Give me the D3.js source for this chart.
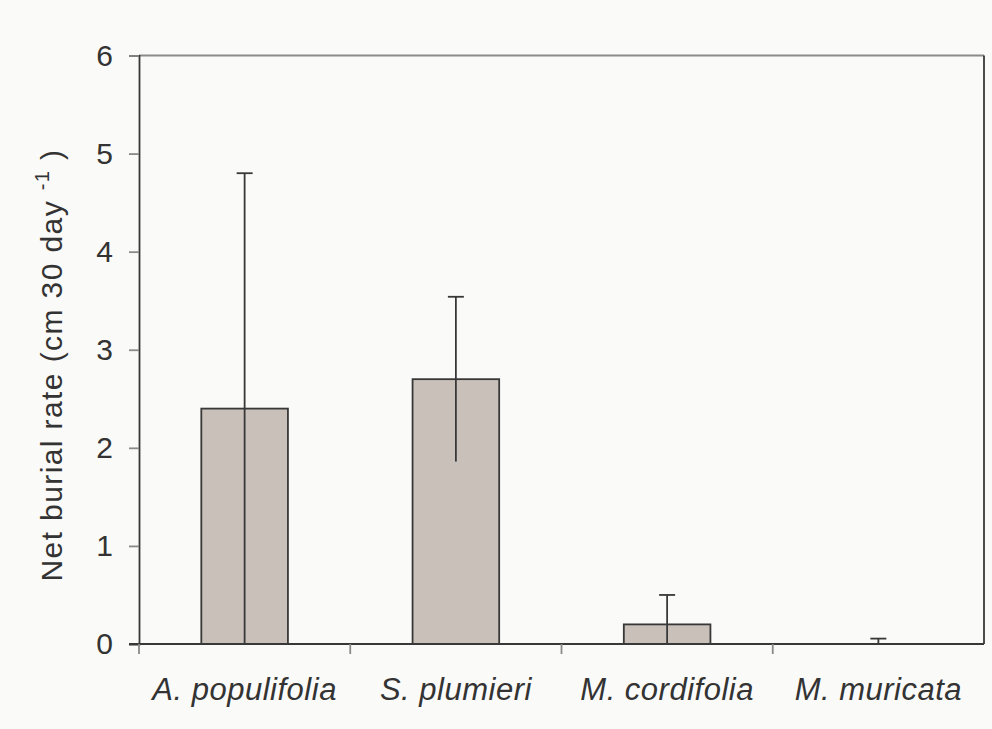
<!DOCTYPE html>
<html>
<head>
<meta charset="utf-8">
<script src="https://cdn.jsdelivr.net/npm/d3@7"></script>
<style>
  body { margin: 0; background: #fafaf8; }
  svg { display: block; font-family: "Liberation Sans", Arial, sans-serif; }
</style>
</head>
<body>
<svg id="chart" width="992" height="729"></svg>
<script>
// species and their mean burial rates with error (+/-)
const species = ["A. populifolia", "S. plumieri", "M. cordifolia", "M. muricata"];
const means = [2.4, 2.7, 0.2, 0];
const errors = [2.4, 0.84, 0.3, 0.055];
const yTicks = [0, 1, 2, 3, 4, 5, 6];

const svg = d3.select("#chart");
const margin = { top: 55.5, right: 8, bottom: 85, left: 139 };
const width = 992 - margin.left - margin.right;
const height = 729 - margin.top - margin.bottom;

const ink = "#383838";
const lw = 1.8;

const x = d3.scaleBand().domain(species).range([0, width]).paddingInner(0).paddingOuter(0);
const y = d3.scaleLinear().domain([0, 6]).range([height, 0]);

const g = svg.append("g").attr("transform", `translate(${margin.left},${margin.top})`);

// frame: top grey, right dark
g.append("line")
  .attr("x1", 0).attr("x2", width).attr("y1", 0).attr("y2", 0)
  .attr("stroke", "#8a8a8a").attr("stroke-width", lw);
g.append("line")
  .attr("x1", width).attr("x2", width).attr("y1", 0).attr("y2", height)
  .attr("stroke", ink).attr("stroke-width", lw);

// bars
const barW = x.bandwidth() * 0.41;
g.selectAll("rect.bar")
  .data(species)
  .join("rect")
  .attr("class", "bar")
  .attr("x", (d) => x(d) + x.bandwidth() / 2 - barW / 2)
  .attr("y", (d, i) => y(means[i]))
  .attr("width", barW)
  .attr("height", (d, i) => height - y(means[i]))
  .attr("fill", "#c9c0ba")
  .attr("stroke", ink)
  .attr("stroke-width", lw);

// error bars
const capW = 16;
const err = g.selectAll("g.err")
  .data(species)
  .join("g")
  .attr("class", "err")
  .attr("transform", (d) => `translate(${x(d) + x.bandwidth() / 2},0)`);

err.append("line")
  .attr("y1", (d, i) => y(Math.max(0, means[i] - errors[i])))
  .attr("y2", (d, i) => y(means[i] + errors[i]))
  .attr("stroke", ink).attr("stroke-width", lw);

err.append("line")
  .attr("x1", -capW / 2).attr("x2", capW / 2)
  .attr("y1", (d, i) => y(means[i] + errors[i]))
  .attr("y2", (d, i) => y(means[i] + errors[i]))
  .attr("stroke", ink).attr("stroke-width", lw);

err.filter((d, i) => means[i] - errors[i] > 0)
  .append("line")
  .attr("x1", -capW / 2).attr("x2", capW / 2)
  .attr("y1", (d, i) => y(means[i] - errors[i]))
  .attr("y2", (d, i) => y(means[i] - errors[i]))
  .attr("stroke", ink).attr("stroke-width", lw);

// y axis
const yAxis = g.append("g")
  .call(d3.axisLeft(y).tickValues(yTicks).tickSize(10).tickPadding(16).tickFormat(d3.format("d")));
yAxis.select(".domain").attr("stroke", ink).attr("stroke-width", lw);
yAxis.selectAll(".tick line").attr("stroke", "#8a8a8a").attr("stroke-width", lw);
yAxis.selectAll(".tick text")
  .attr("fill", "#333")
  .attr("font-size", 30)
  .attr("font-family", "Liberation Sans, Arial, sans-serif");

// x axis
const xAxis = g.append("g")
  .attr("transform", `translate(0,${height})`);
xAxis.append("line")
  .attr("x1", -10).attr("x2", width)
  .attr("stroke", ink).attr("stroke-width", lw);
xAxis.selectAll("line.tk")
  .data([0, 1, 2, 3])
  .join("line")
  .attr("class", "tk")
  .attr("x1", (d) => x(species[d])).attr("x2", (d) => x(species[d]))
  .attr("y1", 0).attr("y2", 10)
  .attr("stroke", "#8a8a8a").attr("stroke-width", lw);
xAxis.selectAll("text")
  .data(species)
  .join("text")
  .attr("x", (d) => x(d) + x.bandwidth() / 2)
  .attr("y", 56)
  .attr("text-anchor", "middle")
  .attr("fill", "#333")
  .attr("font-size", 31)
  .attr("letter-spacing", 0.5)
  .style("font-style", "italic")
  .text((d) => d);

// y label
const ylab = svg.append("text")
  .attr("transform", "translate(62,365) rotate(-90)")
  .attr("text-anchor", "middle")
  .attr("fill", "#333")
  .attr("font-size", 30)
  .attr("letter-spacing", 1.4);
ylab.append("tspan").text("Net burial rate (cm 30 day ");
ylab.append("tspan").attr("dy", -13).attr("font-size", 20).text("-1");
ylab.append("tspan").attr("dy", 13).text(" )");
</script>
</body>
</html>
